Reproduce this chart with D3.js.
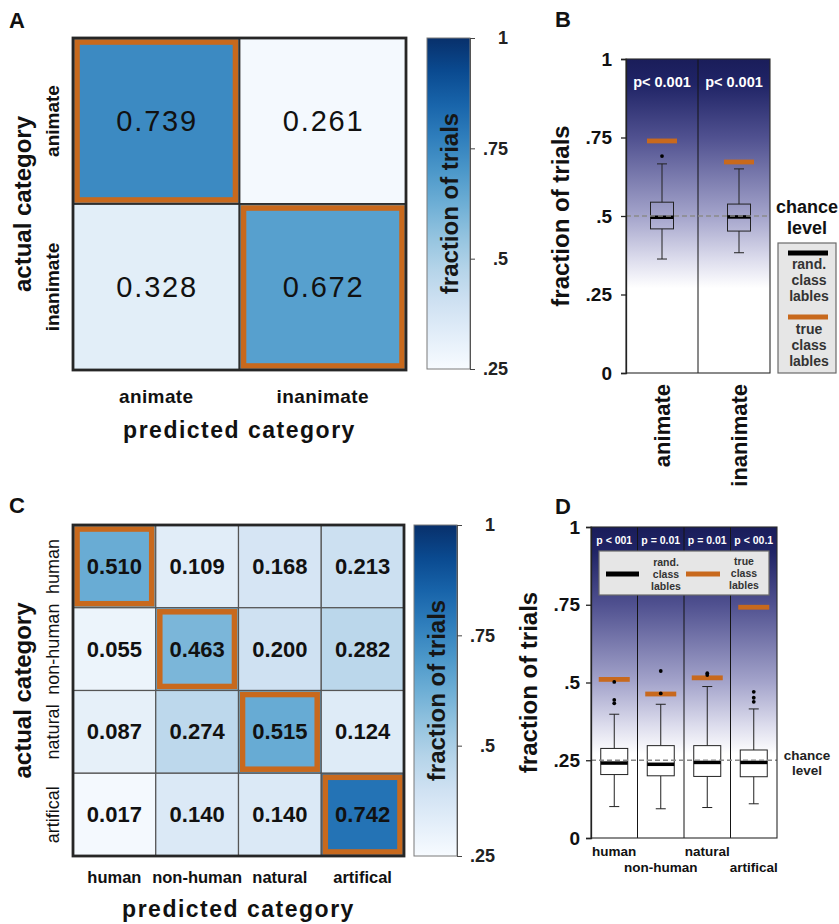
<!DOCTYPE html>
<html>
<head>
<meta charset="utf-8">
<script src="https://cdn.jsdelivr.net/npm/d3@7"></script>
<style>
  body { margin: 0; background: #fff; }
  svg { display: block; }
  text { font-family: "Liberation Sans", Arial, Helvetica, sans-serif; }
</style>
</head>
<body>
<svg id="fig" width="839" height="924"></svg>
<script>
// ---------- data ----------
const catsA = ["animate", "inanimate"];
const confA = [[0.739, 0.261], [0.328, 0.672]];

const catsC = ["human", "non-human", "natural", "artifical"];
const confC = [
  [0.510, 0.109, 0.168, 0.213],
  [0.055, 0.463, 0.200, 0.282],
  [0.087, 0.274, 0.515, 0.124],
  [0.017, 0.140, 0.140, 0.742]
];

const cbarTicks = [0.25, 0.5, 0.75, 1];
const fracTicks = [0, 0.25, 0.5, 0.75, 1];

// random-label distributions: [lower whisker, q1, median, q3, upper whisker]
const boxB = [[0.363, 0.459, 0.496, 0.544, 0.666], [0.383, 0.452, 0.497, 0.538, 0.650]];
const outB = [[0.691], []];
const pB = ["p< 0.001", "p< 0.001"];

const boxD = [
  [0.101, 0.204, 0.241, 0.288, 0.398],
  [0.094, 0.200, 0.237, 0.297, 0.430],
  [0.098, 0.198, 0.243, 0.297, 0.487],
  [0.110, 0.197, 0.243, 0.283, 0.415]
];
const outD = [[0.502, 0.444, 0.433], [0.537, 0.465], [0.530, 0.524], [0.470, 0.451, 0.438]];
const pD = ["p < 001", "p = 0.01", "p = 0.01", "p < 00.1"];

const chanceB = 0.5, chanceD = 0.25;

// ---------- styles ----------
const ORANGE = "#c8691d";
const bgStops = [[1, "#1a1d5a"], [0.92, "#202466"], [0.75, "#505190"], [0.5, "#a4a4cb"], [0.36, "#dddded"], [0.27, "#ffffff"]];
const tickFmt = v => v === 0 ? "0" : v === 1 ? "1" : String(v).replace(/^0/, "");

const svg = d3.select("#fig");
const defs = svg.append("defs");

function label(g, txt, x, y, o) {
  const t = g.append("text").text(txt)
    .attr("x", x).attr("y", y)
    .attr("font-size", o.size)
    .attr("font-weight", o.weight || "bold")
    .attr("fill", o.fill || "#111")
    .attr("text-anchor", o.anchor || "middle");
  if (o.central) t.attr("dominant-baseline", "central");
  if (o.rotate) t.attr("transform", `rotate(-90,${x},${y})`);
  if (o.spacing) t.attr("letter-spacing", o.spacing);
  return t;
}

// ---------- confusion matrix ----------
function heatmap(g, cats, conf, color, x, y, st) {
  const cells = conf.flatMap((row, i) => row.map((v, j) => ({ r: cats[i], c: cats[j], v, diag: i === j })));
  g.selectAll("rect.cell").data(cells).join("rect").attr("class", "cell")
    .attr("x", d => x(d.c)).attr("y", d => y(d.r))
    .attr("width", x.bandwidth()).attr("height", y.bandwidth())
    .attr("fill", d => color(d.v))
    .attr("stroke", st.grid).attr("stroke-width", st.gridW);

  const ow = 5.5, inset = 1.3 + ow / 2;
  g.selectAll("rect.diag").data(cells.filter(d => d.diag)).join("rect").attr("class", "diag")
    .attr("x", d => x(d.c) + inset).attr("y", d => y(d.r) + inset)
    .attr("width", x.bandwidth() - 2 * inset).attr("height", y.bandwidth() - 2 * inset)
    .attr("fill", "none").attr("stroke", ORANGE).attr("stroke-width", ow);

  g.selectAll("text.val").data(cells).join("text").attr("class", "val")
    .attr("x", d => x(d.c) + x.bandwidth() / 2 + (st.spacing || 0) / 2)
    .attr("y", d => y(d.r) + y.bandwidth() / 2)
    .attr("dominant-baseline", "central").attr("text-anchor", "middle")
    .attr("font-size", st.valSize).attr("font-weight", st.valWeight)
    .attr("letter-spacing", st.spacing || 0).attr("fill", "#111")
    .text(d => d.v.toFixed(3));

  const [x0, x1] = x.range(), [y0, y1] = y.range();
  g.append("rect").attr("x", x0).attr("y", y0).attr("width", x1 - x0).attr("height", y1 - y0)
    .attr("fill", "none").attr("stroke", "#262626").attr("stroke-width", 2.8);

  cats.forEach(c => {
    label(g, c, st.rowX, y(c) + y.bandwidth() / 2, { size: st.rowSize, weight: st.rowWeight, rotate: true, central: true });
    label(g, c, x(c) + x.bandwidth() / 2, st.colY, { size: st.colSize, spacing: st.colSpacing });
  });
  label(g, "actual category", 22, (y0 + y1) / 2, { size: 24, rotate: true, central: true });
  label(g, "predicted category", (x0 + x1) / 2, st.titleY, { size: 23, spacing: 1.5 });
}

function colorbar(g, id, x0, w, scale, labelX) {
  const [yb, yt] = scale.range();
  const grad = defs.append("linearGradient").attr("id", id)
    .attr("x1", 0).attr("y1", 1).attr("x2", 0).attr("y2", 0);
  d3.range(0, 1.0001, 0.1).forEach(t =>
    grad.append("stop").attr("offset", t).attr("stop-color", d3.interpolateBlues(t)));
  g.append("rect").attr("x", x0).attr("y", yt).attr("width", w).attr("height", yb - yt)
    .attr("fill", `url(#${id})`).attr("stroke", "#7a7a7a").attr("stroke-width", 1);
  const ax = g.append("g").attr("transform", `translate(${x0 + w},0)`)
    .call(d3.axisRight(scale).tickValues(cbarTicks).tickFormat(tickFmt).tickSize(5));
  ax.select(".domain").attr("stroke", "#555");
  ax.selectAll(".tick line").attr("stroke", "#444");
  ax.selectAll(".tick text").attr("x", labelX - x0 - w).attr("text-anchor", "end")
    .attr("font-size", 18).attr("font-weight", "bold").attr("fill", "#222");
  label(g, "fraction of trials", x0 + w / 2 + 1, (yb + yt) / 2, { size: 24, rotate: true, central: true, fill: "#161616" });
}

// ---------- box plots ----------
function boxPanel(g, o) {
  const { x, y, cats, boxes, outs, truth, pvals } = o;
  const [left, right] = x.range();
  const top = y(1), bottom = y(0);
  const bw = x.bandwidth();

  const grad = defs.append("linearGradient").attr("id", o.gradId)
    .attr("gradientUnits", "userSpaceOnUse")
    .attr("x1", 0).attr("x2", 0).attr("y1", top).attr("y2", bottom);
  bgStops.forEach(([v, c]) => grad.append("stop")
    .attr("offset", (y(v) - top) / (bottom - top)).attr("stop-color", c));
  g.append("rect").attr("x", left).attr("y", top).attr("width", right - left).attr("height", bottom - top)
    .attr("fill", `url(#${o.gradId})`);

  g.selectAll("line.div").data(cats.slice(1)).join("line").attr("class", "div")
    .attr("x1", d => x(d)).attr("x2", d => x(d)).attr("y1", top).attr("y2", bottom)
    .attr("stroke", "#151515").attr("stroke-width", 1);

  g.selectAll("text.p").data(pvals).join("text").attr("class", "p")
    .attr("x", (d, i) => x(cats[i]) + bw / 2).attr("y", o.pY)
    .attr("text-anchor", "middle").attr("dominant-baseline", "central")
    .attr("font-size", o.pSize).attr("font-weight", "bold").attr("fill", "#fff")
    .text(d => d);

  if (o.legend) o.legend(g);

  const cx = i => x(cats[i]) + bw / 2 + (o.shift ? o.shift[i] : 0);
  const items = boxes.map((b, i) => ({ b, i }));
  const bx = g.selectAll("g.box").data(items).join("g").attr("class", "box");
  // whiskers
  bx.append("line").attr("x1", d => cx(d.i)).attr("x2", d => cx(d.i))
    .attr("y1", d => y(d.b[0])).attr("y2", d => y(d.b[1])).attr("stroke", "#222");
  bx.append("line").attr("x1", d => cx(d.i)).attr("x2", d => cx(d.i))
    .attr("y1", d => y(d.b[3])).attr("y2", d => y(d.b[4])).attr("stroke", "#222");
  [0, 4].forEach(k => bx.append("line")
    .attr("x1", d => cx(d.i) - o.capW / 2).attr("x2", d => cx(d.i) + o.capW / 2)
    .attr("y1", d => y(d.b[k])).attr("y2", d => y(d.b[k])).attr("stroke", "#222"));
  bx.append("rect").attr("x", d => cx(d.i) - o.boxW / 2).attr("width", o.boxW)
    .attr("y", d => y(d.b[3])).attr("height", d => y(d.b[1]) - y(d.b[3]))
    .attr("fill", o.boxFill).attr("stroke", "#222").attr("stroke-width", 1);
  bx.append("line").attr("x1", d => cx(d.i) - o.boxW / 2).attr("x2", d => cx(d.i) + o.boxW / 2)
    .attr("y1", d => y(d.b[2])).attr("y2", d => y(d.b[2]))
    .attr("stroke", "#000").attr("stroke-width", 3.5);

  // true-label accuracy
  g.selectAll("line.truth").data(truth).join("line").attr("class", "truth")
    .attr("x1", (d, i) => cx(i) - o.truthW / 2).attr("x2", (d, i) => cx(i) + o.truthW / 2)
    .attr("y1", d => y(d)).attr("y2", d => y(d))
    .attr("stroke", ORANGE).attr("stroke-width", 4.8);

  const pts = outs.flatMap((arr, i) => arr.map(v => ({ v, i })));
  g.selectAll("circle.out").data(pts).join("circle").attr("class", "out")
    .attr("cx", d => cx(d.i)).attr("cy", d => y(d.v)).attr("r", 1.9).attr("fill", "#000");

  g.append("line").attr("x1", left).attr("x2", right).attr("y1", y(o.chance)).attr("y2", y(o.chance))
    .attr("stroke", "#8a8a8a").attr("stroke-width", 1.3).attr("stroke-dasharray", "5,3");

  g.append("rect").attr("x", left).attr("y", top).attr("width", right - left).attr("height", bottom - top)
    .attr("fill", "none").attr("stroke", "#2a2a2a").attr("stroke-width", 1.1);

  const ax = g.append("g").attr("transform", `translate(${left},0)`)
    .call(d3.axisLeft(y).tickValues(fracTicks).tickFormat(tickFmt).tickSize(5).tickPadding(o.tickPad));
  ax.select(".domain").attr("stroke", "#222").attr("stroke-width", 1.3);
  ax.selectAll(".tick line").attr("stroke", "#222").attr("stroke-width", 1.3);
  ax.selectAll(".tick text").attr("font-size", 19).attr("font-weight", "bold").attr("fill", "#111");

  label(g, "fraction of trials", o.titleX, (top + bottom) / 2, { size: 24, rotate: true, central: true });
}

// ================= Panel A =================
const gA = svg.append("g");
const xA = d3.scaleBand().domain(catsA).range([73, 406]);
const yA = d3.scaleBand().domain(catsA).range([38, 370]);
const colorA = d3.scaleSequential(d3.interpolateBlues).domain([0.25, 1]).clamp(true);
heatmap(gA, catsA, confA, colorA, xA, yA, {
  grid: "#2e2e2e", gridW: 1.8, valSize: 29, valWeight: "normal", spacing: 1.8,
  rowX: 52, rowSize: 19, rowWeight: "bold", colY: 403, colSize: 19, colSpacing: 0.4, titleY: 438
});
colorbar(gA, "cbA", 427, 43, d3.scaleLinear().domain([0.25, 1]).range([369, 38]), 508);
label(gA, "A", 9, 28, { size: 22, anchor: "start" });

// ================= Panel B =================
const gB = svg.append("g");
const xB = d3.scaleBand().domain(catsA).range([626, 770]);
const yB = d3.scaleLinear().domain([0, 1]).range([373, 59]);
boxPanel(gB, {
  x: xB, y: yB, cats: catsA, boxes: boxB, outs: outB, truth: catsA.map((c, i) => confA[i][i]),
  pvals: pB, gradId: "bgB", pY: 82, pSize: 14.5, boxW: 23, capW: 10, truthW: 30, boxFill: "none",
  shift: [0, 5], chance: chanceB, tickPad: 9, titleX: 560,
  legend: null
});
catsA.forEach((c, i) => label(gB, c, xB(c) + xB.bandwidth() / 2 + [0, 5][i], 384,
  { size: 22, rotate: true, central: true, anchor: "end" }));
label(gB, "chance", 807, 207, { size: 18, central: true });
label(gB, "level", 807, 228, { size: 18, central: true });
gB.append("rect").attr("x", 778).attr("y", 243).attr("width", 58).attr("height", 130)
  .attr("fill", "#e6e6e6").attr("stroke", "#6a6a6a").attr("stroke-width", 1.2);
gB.append("line").attr("x1", 788).attr("x2", 828).attr("y1", 253).attr("y2", 253).attr("stroke", "#000").attr("stroke-width", 5);
["rand.", "class", "lables"].forEach((t, i) => label(gB, t, 809, 264 + 16 * i, { size: 14, central: true, fill: "#333" }));
gB.append("line").attr("x1", 788).attr("x2", 828).attr("y1", 317).attr("y2", 317).attr("stroke", ORANGE).attr("stroke-width", 5);
["true", "class", "lables"].forEach((t, i) => label(gB, t, 809, 329 + 16 * i, { size: 14, central: true, fill: "#333" }));
label(gB, "B", 555, 27, { size: 22, anchor: "start" });

// ================= Panel C =================
const gC = svg.append("g");
const xC = d3.scaleBand().domain(catsC).range([73, 404]);
const yC = d3.scaleBand().domain(catsC).range([525, 856]);
const colorC = d3.scaleSequential(d3.interpolateBlues).domain([0, 1]).clamp(true);
heatmap(gC, catsC, confC, colorC, xC, yC, {
  grid: "#555", gridW: 1.2, valSize: 22, valWeight: "bold", spacing: 0,
  rowX: 53, rowSize: 18, rowWeight: "normal", colY: 883, colSize: 16.5, colSpacing: 0, titleY: 917
});
colorbar(gC, "cbC", 414, 43, d3.scaleLinear().domain([0.25, 1]).range([856, 525]), 495);
label(gC, "C", 9, 513, { size: 22, anchor: "start" });

// ================= Panel D =================
const gD = svg.append("g");
const xD = d3.scaleBand().domain(catsC).range([591, 777]);
const yD = d3.scaleLinear().domain([0, 1]).range([838, 527]);
boxPanel(gD, {
  x: xD, y: yD, cats: catsC, boxes: boxD, outs: outD, truth: catsC.map((c, i) => confC[i][i]),
  pvals: pD, gradId: "bgD", pY: 540, pSize: 10.5, boxW: 27, capW: 10, truthW: 31, boxFill: "#fff",
  chance: chanceD, tickPad: 6, titleX: 528,
  legend: g => {
    g.append("rect").attr("x", 599).attr("y", 551).attr("width", 170).attr("height", 44)
      .attr("fill", "#e6e6e6").attr("stroke", "#6a6a6a").attr("stroke-width", 1.2);
    g.append("line").attr("x1", 606).attr("x2", 639).attr("y1", 574).attr("y2", 574).attr("stroke", "#000").attr("stroke-width", 5);
    ["rand.", "class", "lables"].forEach((t, i) => label(g, t, 666, 562 + 12 * i, { size: 10.5, central: true, fill: "#333" }));
    g.append("line").attr("x1", 686).attr("x2", 720).attr("y1", 574).attr("y2", 574).attr("stroke", ORANGE).attr("stroke-width", 5);
    ["true", "class", "lables"].forEach((t, i) => label(g, t, 744, 561 + 12 * i, { size: 10.5, central: true, fill: "#333" }));
  }
});
catsC.forEach((c, i) => label(gD, c, xD(c) + xD.bandwidth() / 2, i % 2 ? 872 : 856, { size: 13.5 }));
label(gD, "chance", 807, 755, { size: 13.5, central: true, fill: "#222" });
label(gD, "level", 807, 770, { size: 13.5, central: true, fill: "#222" });
label(gD, "D", 555, 514, { size: 22, anchor: "start" });
</script>
</body>
</html>
